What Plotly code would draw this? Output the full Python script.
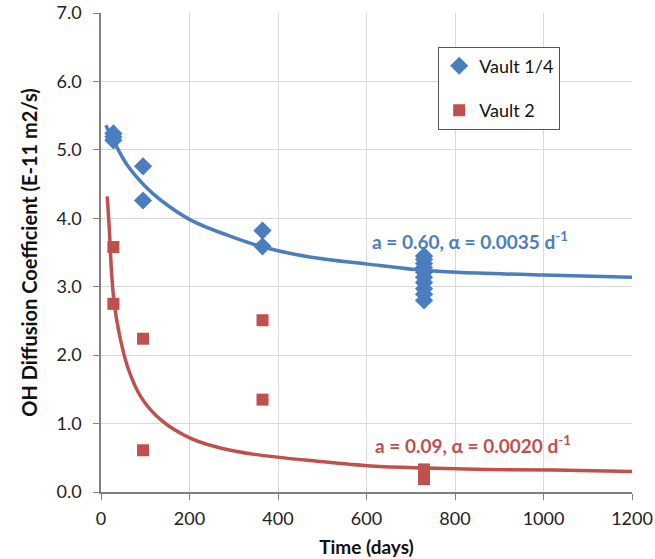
import plotly.graph_objects as go

# Measured data
v14_t = [28, 28, 28, 95, 95, 365, 365, 730, 730, 730, 730, 730, 730, 730, 730, 730, 730]
v14_d = [5.24, 5.19, 5.14, 4.76, 4.26, 3.82, 3.59, 3.45, 3.40, 3.34, 3.28, 3.21, 3.14, 3.06, 2.97, 2.89, 2.80]
v2_t = [28, 28, 95, 95, 365, 365, 730, 730]
v2_d = [3.58, 2.75, 2.24, 0.61, 2.51, 1.35, 0.33, 0.19]

# Fitted curves
fit14_t = [11, 30, 60, 98, 136, 204, 287, 366, 475, 603, 728, 804, 1000, 1200]
fit14_d = [5.36, 5.11, 4.77, 4.48, 4.26, 3.97, 3.75, 3.58, 3.43, 3.33, 3.24, 3.21, 3.17, 3.14]
fit2_t = [14, 19, 24, 30, 41, 60, 90, 136, 204, 272, 347, 489, 611, 734, 871, 1024, 1200]
fit2_d = [4.32, 3.82, 3.19, 2.75, 2.32, 1.83, 1.39, 1.05, 0.78, 0.64, 0.55, 0.45, 0.38, 0.35, 0.33, 0.32, 0.30]

x_ticks = [0, 200, 400, 600, 800, 1000, 1200]
y_ticks = [0, 1, 2, 3, 4, 5, 6, 7]

BLUE = "#4A7EBF"
RED = "#C0504D"
FONT = "Lato"

fig = go.Figure()
fig.add_trace(go.Scatter(x=fit14_t, y=fit14_d, mode="lines", line=dict(color=BLUE, width=3.5, shape="spline"),
                         showlegend=False, hoverinfo="skip"))
fig.add_trace(go.Scatter(x=fit2_t, y=fit2_d, mode="lines", line=dict(color=RED, width=3.5, shape="spline"),
                         showlegend=False, hoverinfo="skip"))
fig.add_trace(go.Scatter(x=v14_t, y=v14_d, mode="markers", name="Vault 1/4", legendgroup="a",
                         marker=dict(symbol="diamond", size=14, color=BLUE)))
fig.add_trace(go.Scatter(x=v2_t, y=v2_d, mode="markers", name="Vault 2", legendgroup="b",
                         marker=dict(symbol="square", size=12, color=RED)))

fig.add_annotation(x=834, y=3.68, text="<b>a = 0.60, α = 0.0035 d<sup>-1</sup></b>", showarrow=False,
                   font=dict(family=FONT, size=19, color=BLUE))
fig.add_annotation(x=840, y=0.70, text="<b>a = 0.09, α = 0.0020 d<sup>-1</sup></b>", showarrow=False,
                   font=dict(family=FONT, size=19, color=RED))

fig.update_layout(
    width=655, height=559,
    margin=dict(l=101, r=23, t=13, b=67),
    paper_bgcolor="white", plot_bgcolor="white",
    font=dict(family=FONT, size=18, color="#222"),
    legend=dict(x=0.635, y=0.93, xanchor="left", yanchor="top",
                bordercolor="#555", borderwidth=1, bgcolor="white",
                font=dict(family=FONT, size=18, color="#111"),
                tracegroupgap=18, itemwidth=30,
                entrywidth=110, entrywidthmode="pixels"),
    xaxis=dict(range=[0, 1200], tickvals=x_ticks, ticktext=[str(v) for v in x_ticks],
               showgrid=True, gridcolor="#d9d9d9", gridwidth=1,
               showline=True, linecolor="#808080", linewidth=1.5,
               ticks="outside", ticklen=6, tickcolor="#808080",
               zeroline=False, automargin=False, ticklabelstandoff=4,
               tickfont=dict(family=FONT, size=18, color="#222"),
               title=dict(text="<b>Time (days)</b>", font=dict(family=FONT, size=19, color="#111"), standoff=12)),
    yaxis=dict(range=[0, 7], tickvals=y_ticks, ticktext=[f"{v:.1f}" for v in y_ticks],
               showgrid=True, gridcolor="#d9d9d9", gridwidth=1,
               showline=True, linecolor="#808080", linewidth=1.5,
               ticks="outside", ticklen=6, tickcolor="#808080",
               zeroline=False, automargin=False, ticklabelstandoff=8,
               tickfont=dict(family=FONT, size=18, color="#222"),
               title=dict(text="<b>OH Diffusion Coefficient (E-11 m2/s)</b>", font=dict(family=FONT, size=20, color="#111"), standoff=14)),
)

fig.write_html("out.html")
